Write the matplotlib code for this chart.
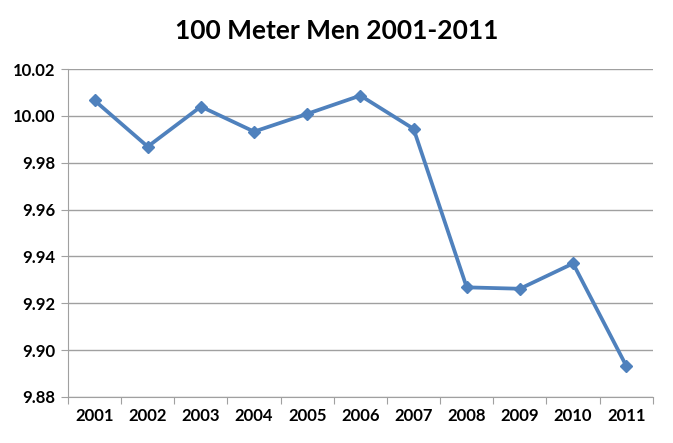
import numpy as np
import matplotlib.pyplot as plt
from matplotlib.ticker import FixedLocator

years = ['2001', '2002', '2003', '2004', '2005', '2006',
         '2007', '2008', '2009', '2010', '2011']
times = [10.0066, 9.9869, 10.0040, 9.9933, 10.0009, 10.0087,
         9.9945, 9.9268, 9.9262, 9.9370, 9.8933]
yticks = [9.88, 9.90, 9.92, 9.94, 9.96, 9.98, 10.00, 10.02]

plt.rcParams['font.family'] = ['Lato', 'DejaVu Sans']

fig = plt.figure(figsize=(6.73, 4.43), dpi=100)
ax = fig.add_axes([0.101, 0.104, 0.869, 0.740])

x = np.arange(len(years))
ax.plot(x, times, color='#4F81BD', lw=2.7, marker='D', ms=6.5,
        markeredgecolor='#4F81BD', zorder=3)

ax.set_xlim(-0.5, len(years) - 0.5)
ax.set_ylim(yticks[0], yticks[-1])
ax.set_yticks(yticks)
ax.set_yticklabels([f'{v:.2f}' for v in yticks], fontweight='bold', fontsize=12)
ax.yaxis.grid(True, color='#A0A0A0', lw=1)

# category boundaries as tick marks, labels at the centres
ax.xaxis.set_major_locator(FixedLocator(np.arange(-0.5, len(years), 1.0)))
ax.set_xticklabels([])
ax.xaxis.set_minor_locator(FixedLocator(x))
ax.set_xticklabels(years, minor=True, fontweight='bold', fontsize=12)
ax.tick_params(axis='x', which='major', length=5, color='#A0A0A0')
ax.tick_params(axis='x', which='minor', length=0, pad=8)
ax.tick_params(axis='y', length=5, color='#A0A0A0', pad=4)

for s in ['top', 'right']:
    ax.spines[s].set_visible(False)
for s in ['left', 'bottom']:
    ax.spines[s].set_color('#A0A0A0')

fig.text(0.5, 0.93, '100 Meter Men 2001-2011', ha='center', va='center',
         fontsize=19, fontweight='bold')

fig.savefig('out.png', dpi=100)
